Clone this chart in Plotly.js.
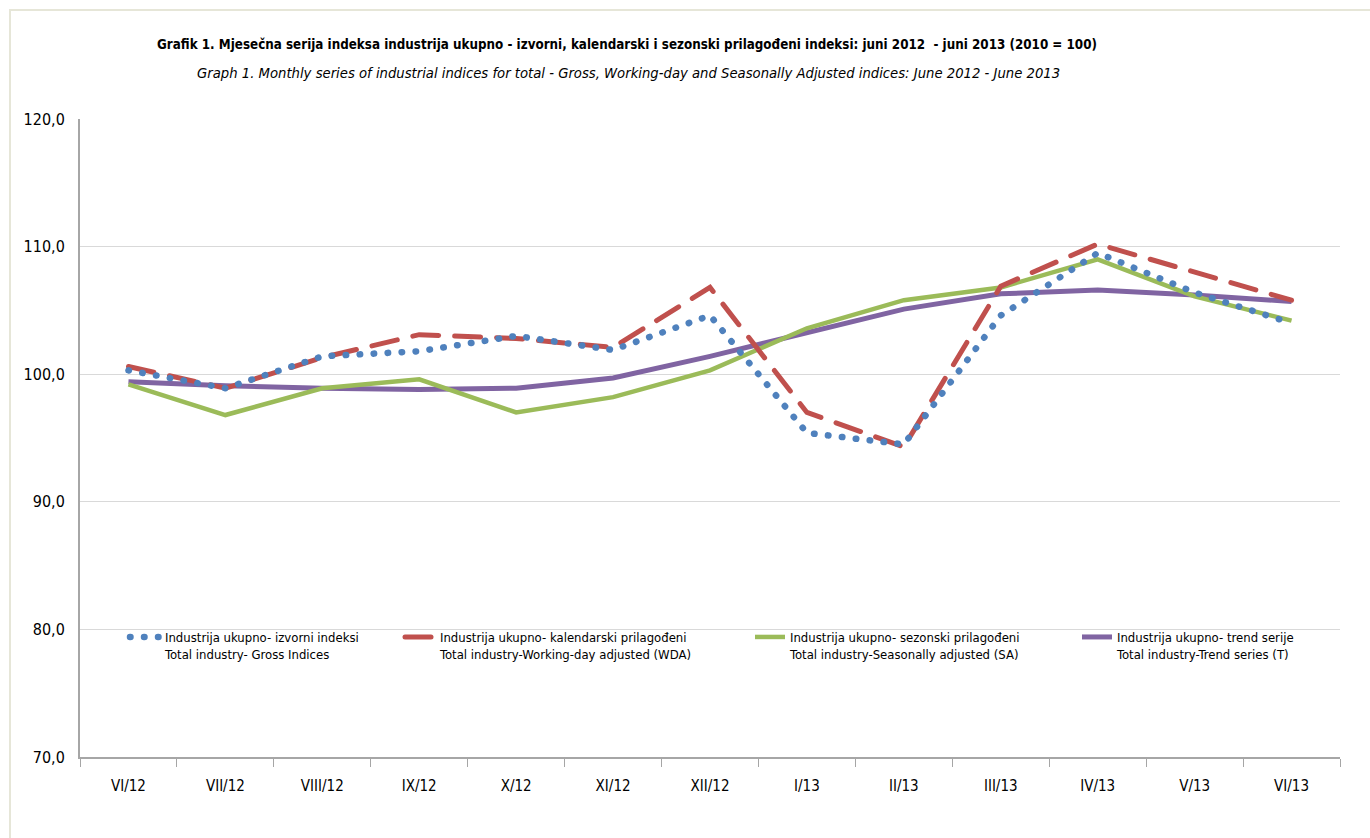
<!DOCTYPE html>
<html>
<head>
<meta charset="utf-8">
<script src="https://cdn.plot.ly/plotly-3.0.1.min.js"></script>
<style>
  html, body { margin: 0; padding: 0; background: #ffffff; }
  #frame { position: absolute; left: 9px; top: 9px; width: 1370px; height: 838px; border-top: 2px solid #e6e6d8; border-left: 2px solid #e6e6d8; box-sizing: border-box; }
  #chart { position: absolute; left: 0; top: 0; width: 1370px; height: 838px; }
</style>
</head>
<body>
<div id="frame"></div>
<div id="chart"></div>
<script>
var categories = ["VI/12","VII/12","VIII/12","IX/12","X/12","XI/12","XII/12","I/13","II/13","III/13","IV/13","V/13","VI/13"];
var grossIndices = [100.3, 98.9, 101.4, 101.8, 103.0, 101.9, 104.6, 95.4, 94.5, 104.6, 109.5, 106.4, 104.0];
var wdaIndices   = [100.6, 98.9, 101.3, 103.1, 102.8, 102.1, 106.8, 97.0, 94.3, 106.9, 110.2, 108.0, 105.8];
var saIndices    = [99.2, 96.8, 98.9, 99.6, 97.0, 98.2, 100.3, 103.6, 105.8, 106.8, 109.0, 106.1, 104.2];
var trendIndices = [99.4, 99.1, 98.9, 98.8, 98.9, 99.7, 101.4, 103.2, 105.1, 106.3, 106.6, 106.2, 105.7];
var yTickValues = [70, 80, 90, 100, 110, 120];

var seriesNames = [
  "Industrija ukupno- izvorni indeksi<br>Total industry- Gross Indices",
  "Industrija ukupno- kalendarski prilagođeni<br>Total industry-Working-day adjusted (WDA)",
  "Industrija ukupno- sezonski prilagođeni<br>Total industry-Seasonally adjusted (SA)",
  "Industrija ukupno- trend serije<br>Total industry-Trend series (T)"
];

var FONT = "Liberation Sans Narrow, Arial Narrow, DejaVu Sans Condensed, sans-serif";

var traces = [
  {x: categories, y: trendIndices, name: seriesNames[3], type: "scatter", mode: "lines",
   line: {color: "#8064a2", width: 5}, legend: "legend4"},
  {x: categories, y: saIndices, name: seriesNames[2], type: "scatter", mode: "lines",
   line: {color: "#9bbb59", width: 4.5}, legend: "legend3"},
  {x: categories, y: wdaIndices, name: seriesNames[1], type: "scatter", mode: "lines",
   line: {color: "#c0504d", width: 5, dash: "26px,16px"}, legend: "legend2"},
  {x: categories, y: grossIndices, name: seriesNames[0], type: "scatter", mode: "lines",
   line: {color: "#4f81bd", width: 6.5, dash: "0.5px,13.5px"}, legend: "legend"}
];

var PL = 80, PR = 1340, PT = 119, PB = 757;
function legendBox(xpx) {
  return {
    xref: "paper", yref: "paper",
    x: (xpx - PL) / (PR - PL), y: 1 - (622 - PT) / (PB - PT),
    xanchor: "left", yanchor: "top",
    bgcolor: "rgba(0,0,0,0)", borderwidth: 0,
    font: {family: FONT, size: 13, color: "#000"},
    valign: "top", tracegroupgap: 0
  };
}

var layout = {
  width: 1370, height: 838,
  margin: {l: PL, r: 1370 - PR, t: PT, b: 838 - PB, autoexpand: false},
  paper_bgcolor: "rgba(0,0,0,0)",
  plot_bgcolor: "rgba(0,0,0,0)",
  separators: ",.",
  showlegend: true,
  legend: legendBox(125),
  legend2: legendBox(400),
  legend3: legendBox(750),
  legend4: legendBox(1077),
  xaxis: {
    type: "category",
    tickson: "boundaries",
    tickangle: 0,
    ticks: "outside", ticklen: 8, tickcolor: "#a6a6a6", tickwidth: 1,
    showline: true, linecolor: "#a6a6a6", linewidth: 2,
    showgrid: false, zeroline: false,
    ticklabelstandoff: 14,
    tickfont: {family: FONT, size: 15, color: "#000"},
    range: [-0.5, 12.5]
  },
  yaxis: {
    range: [70, 120],
    tickvals: yTickValues,
    tickformat: ".1f",
    showline: true, linecolor: "#a6a6a6", linewidth: 2,
    ticks: "", showgrid: true, gridcolor: "#d9d9d9", gridwidth: 1,
    zeroline: false,
    ticklabelstandoff: 10,
    tickfont: {family: FONT, size: 16, color: "#000"}
  },
  annotations: [
    {xref: "paper", yref: "paper", x: (627 - PL) / (PR - PL), y: 1 + (PT - 44) / (PB - PT),
     xanchor: "center", yanchor: "middle", showarrow: false,
     text: "<b>Grafik 1. Mjesečna serija indeksa industrija ukupno - izvorni, kalendarski i sezonski prilagođeni indeksi: juni 2012  - juni 2013 (2010 = 100)</b>",
     font: {family: FONT, size: 13.3, color: "#000"}},
    {xref: "paper", yref: "paper", x: (628 - PL) / (PR - PL), y: 1 + (PT - 73) / (PB - PT),
     xanchor: "center", yanchor: "middle", showarrow: false,
     text: "<i>Graph 1. Monthly series of industrial indices for total - Gross, Working-day and Seasonally Adjusted indices: June 2012 - June 2013</i>",
     font: {family: FONT, size: 14.7, color: "#000"}}
  ]
};

Plotly.newPlot("chart", traces, layout, {displayModeBar: false, staticPlot: true}).then(function (gd) {
  // round line caps for the dotted and dashed series (and their legend keys)
  var paths = gd.querySelectorAll(".scatterlayer .trace path.js-line, .legendlines path");
  paths.forEach(function (p) {
    var da = p.style.strokeDasharray;
    if (da && da !== "none") { p.style.strokeLinecap = "round"; }
  });
});
</script>
</body>
</html>
